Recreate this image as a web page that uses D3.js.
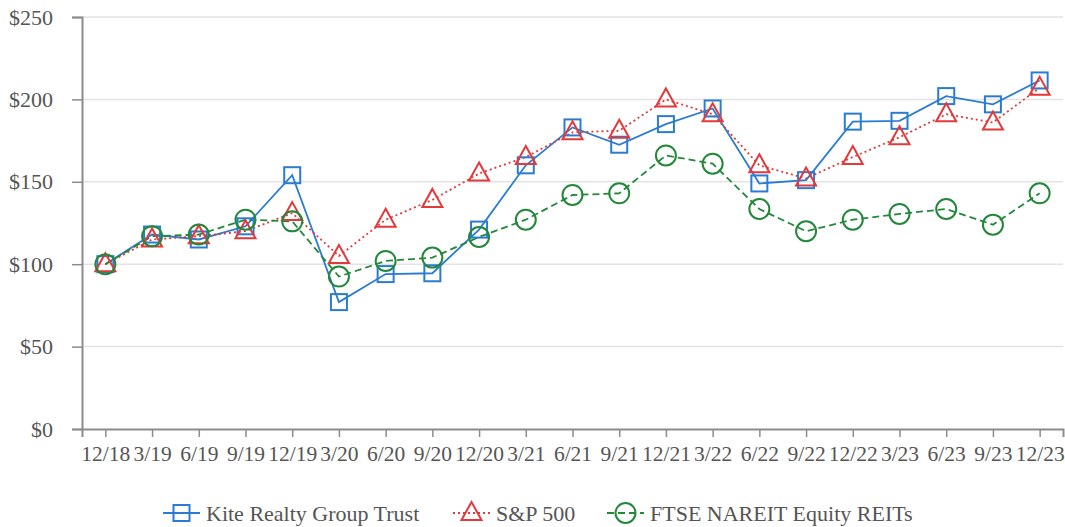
<!DOCTYPE html>
<html>
<head>
<meta charset="utf-8">
<script src="https://cdn.jsdelivr.net/npm/d3@7"></script>
</head>
<body style="margin:0;background:#fff">
<div id="chart"></div>
<script>
const quarters = ['12/18', '3/19', '6/19', '9/19', '12/19', '3/20', '6/20', '9/20', '12/20', '3/21', '6/21',
  '9/21', '12/21', '3/22', '6/22', '9/22', '12/22', '3/23', '6/23', '9/23', '12/23'];
const kite = [100, 118, 115, 123, 154, 77, 94, 94.5, 121, 160, 183, 172.5, 185, 194.5, 149, 151, 186.5, 187, 202, 197, 211.5];
const sp500 = [100, 115, 117, 120, 131, 105, 127, 139, 155, 165, 180, 181, 200, 191, 160, 152, 165, 177, 191, 186, 207];
const nareit = [100, 117, 118, 127, 126, 92.5, 102, 104, 116.5, 127, 142, 143, 166, 161, 133.5, 120, 127, 130.5, 133.5, 124, 143];
const yTicks = [0, 50, 100, 150, 200, 250];

const FONT = '"Liberation Serif", "Times New Roman", serif';

const series = [
  { name: 'Kite Realty Group Trust', values: kite, color: '#2a7bd2', dash: null, marker: 'square' },
  { name: 'S&P 500', values: sp500, color: '#e2393b', dash: '2,3', marker: 'triangle' },
  { name: 'FTSE NAREIT Equity REITs', values: nareit, color: '#23883a', dash: '7,4', marker: 'circle' },
];

const width = 1065, height = 527;
const margin = { top: 17, right: 2, bottom: 98, left: 82 };
const innerWidth = width - margin.left - margin.right;
const innerHeight = height - margin.top - margin.bottom;

const svg = d3.select('#chart').append('svg').attr('width', width).attr('height', height)
  .style('font-family', FONT);
const g = svg.append('g').attr('transform', `translate(${margin.left},${margin.top})`);

const x = d3.scalePoint().domain(quarters).range([0, innerWidth]).padding(0.5);
const y = d3.scaleLinear().domain([0, 250]).range([innerHeight, 0]);

// light horizontal gridlines
g.append('g').selectAll('line').data(yTicks.filter((d) => d > 0)).join('line')
  .attr('x1', 0).attr('x2', innerWidth)
  .attr('y1', (d) => y(d)).attr('y2', (d) => y(d))
  .attr('stroke', '#e3e3e3').attr('stroke-width', 1.5);

const yAxis = g.append('g').call(d3.axisLeft(y).tickValues(yTicks).tickFormat((d) => `$${d}`).tickSize(10).tickPadding(19));
const xAxis = g.append('g').attr('transform', `translate(0,${innerHeight})`)
  .call(d3.axisBottom(x).tickSize(8).tickPadding(9));
[xAxis, yAxis].forEach((ax) => {
  ax.attr('font-family', null);
  ax.select('.domain').attr('stroke', '#8c8c8c').attr('stroke-width', 2);
  ax.selectAll('.tick line').attr('stroke', '#8c8c8c').attr('stroke-width', 1.5);
  ax.selectAll('.tick text').attr('fill', '#555').style('font-family', FONT);
});
yAxis.selectAll('.tick text').attr('font-size', 22);
xAxis.selectAll('.tick text').attr('font-size', 21.5);

function drawMarker(sel, type, color) {
  if (type === 'square') {
    sel.append('rect').attr('x', -8).attr('y', -8).attr('width', 16).attr('height', 16)
      .attr('fill', 'none').attr('stroke', color).attr('stroke-width', 2);
  } else if (type === 'triangle') {
    sel.append('path').attr('d', 'M0,-11 L10,7 L-10,7 Z')
      .attr('fill', 'none').attr('stroke', color).attr('stroke-width', 2);
  } else {
    sel.append('circle').attr('r', 10)
      .attr('fill', 'none').attr('stroke', color).attr('stroke-width', 2);
  }
}

const line = d3.line().x((d, i) => x(quarters[i])).y((d) => y(d));

series.forEach((s) => {
  g.append('path').datum(s.values)
    .attr('d', line)
    .attr('fill', 'none')
    .attr('stroke', s.color)
    .attr('stroke-width', 1.8)
    .attr('stroke-dasharray', s.dash);
});
series.forEach((s) => {
  s.values.forEach((v, i) => {
    const m = g.append('g').attr('transform', `translate(${x(quarters[i])},${y(v)})`);
    drawMarker(m, s.marker, s.color);
  });
});

// legend along the bottom
const legendX = [163, 453, 607];
const legend = svg.append('g').attr('transform', 'translate(0,513)');
series.forEach((s, i) => {
  const lg = legend.append('g').attr('transform', `translate(${legendX[i]},0)`);
  lg.append('line').attr('x1', 0).attr('x2', 37).attr('y1', 0).attr('y2', 0)
    .attr('stroke', s.color).attr('stroke-width', 1.8).attr('stroke-dasharray', s.dash);
  drawMarker(lg.append('g').attr('transform', 'translate(18.5,0)'), s.marker, s.color);
  lg.append('text').attr('x', 43).attr('y', 7.5)
    .attr('font-size', 22).attr('fill', '#555').style('font-family', FONT).text(s.name);
});
</script>
</body>
</html>
